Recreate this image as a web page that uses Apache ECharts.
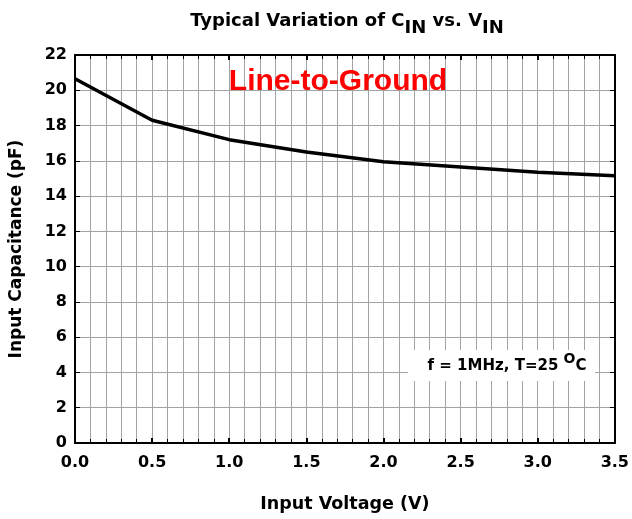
<!DOCTYPE html>
<html lang="en">
<head>
    <meta charset="utf-8">
    <script src="https://cdn.jsdelivr.net/npm/echarts@6/dist/echarts.min.js"></script>
    <style>
        html, body { margin: 0; padding: 0; background: #fff; }
        #main { width: 632px; height: 519px; }
    </style>
</head>
<body>
<div id="main"></div>
<script>
    // input voltage (V) and capacitance (pF)
    var voltage = [0, 0.5, 1.0, 1.5, 2.0, 2.5, 3.0, 3.5];
    var capacitance = [20.65, 18.3, 17.2, 16.5, 15.95, 15.65, 15.35, 15.15];

    var xTicks = ['0.0', '0.5', '1.0', '1.5', '2.0', '2.5', '3.0', '3.5'];

    var font = 'DejaVu Sans';
    var gridColor = '#a3a3a3';

    var points = voltage.map(function (v, i) { return [v, capacitance[i]]; });

    var chart = echarts.init(document.getElementById('main'));

    var xBase = {
        type: 'value',
        min: 0,
        max: 3.5,
        interval: 0.5,
        axisLine: { show: true, onZero: false, lineStyle: { color: '#000', width: 2 } },
        axisTick: { show: true, inside: true, length: 5, lineStyle: { color: '#000', width: 2 } },
        minorTick: { show: true, splitNumber: 5, length: 4, lineStyle: { color: '#000', width: 1 } },
        splitLine: { show: true, lineStyle: { color: gridColor, width: 1 } },
        minorSplitLine: { show: true, lineStyle: { color: gridColor, width: 1 } }
    };

    var yBase = {
        type: 'value',
        min: 0,
        max: 22,
        interval: 2,
        axisLine: { show: true, onZero: false, lineStyle: { color: '#000', width: 2 } },
        axisTick: { show: true, inside: true, length: 5, lineStyle: { color: '#000', width: 1 } },
        splitLine: { show: true, lineStyle: { color: gridColor, width: 1 } }
    };

    var bold = { fontFamily: font, fontWeight: 'bold', color: '#000' };

    chart.setOption({
        animation: false,
        title: {
            text: '{b|Typical Variation of C}{sub|IN}{b| vs. V}{sub|IN}',
            left: 342,
            textAlign: 'center',
            top: 7,
            textStyle: {
                rich: {
                    b: Object.assign({}, bold, { fontSize: 18, lineHeight: 19, verticalAlign: 'top' }),
                    sub: Object.assign({}, bold, { fontSize: 18, lineHeight: 25, verticalAlign: 'bottom' })
                }
            }
        },
        grid: { left: 75, right: 15, top: 55, bottom: 76 },
        xAxis: [
            Object.assign({}, xBase, {
                position: 'bottom',
                name: 'Input Voltage (V)',
                nameLocation: 'middle',
                nameGap: 52,
                nameTextStyle: Object.assign({}, bold, { fontSize: 17.5 }),
                axisLabel: Object.assign({}, bold, {
                    margin: 12,
                    fontSize: 16,
                    formatter: function (v) { return xTicks[Math.round(v / 0.5)]; }
                })
            }),
            Object.assign({}, xBase, {
                position: 'top',
                axisLabel: { show: false },
                splitLine: { show: false },
                minorSplitLine: { show: false }
            })
        ],
        yAxis: [
            Object.assign({}, yBase, {
                position: 'left',
                name: 'Input Capacitance (pF)',
                nameLocation: 'middle',
                nameGap: 50,
                nameTextStyle: Object.assign({}, bold, { fontSize: 17 }),
                axisLabel: Object.assign({}, bold, { margin: 8, fontSize: 16 })
            }),
            Object.assign({}, yBase, {
                position: 'right',
                axisLabel: { show: false },
                splitLine: { show: false }
            })
        ],
        series: [{
            type: 'line',
            data: points,
            showSymbol: false,
            smooth: false,
            lineStyle: { color: '#000', width: 3.5 },
            z: 5
        }],
        graphic: [
            {
                type: 'text',
                x: 338,
                y: 82,
                z: 10,
                style: {
                    text: 'Line-to-Ground',
                    fill: '#ff0000',
                    font: 'bold 30px "Liberation Sans", Arial, sans-serif',
                    align: 'center',
                    verticalAlign: 'middle'
                }
            },
            {
                type: 'rect',
                shape: { x: 408, y: 350, width: 187, height: 31 },
                style: { fill: '#fff' },
                z: 10
            },
            {
                type: 'text',
                x: 507,
                y: 352,
                z: 11,
                style: {
                    text: '{b|f = 1MHz, T=25 }{sup|O}{b|C}',
                    align: 'center',
                    verticalAlign: 'top',
                    rich: {
                        b: { fontFamily: font, fontWeight: 'bold', fontSize: 15, fill: '#000', lineHeight: 22, verticalAlign: 'bottom' },
                        sup: { fontFamily: font, fontWeight: 'bold', fontSize: 14, fill: '#000', lineHeight: 22, verticalAlign: 'top' }
                    }
                }
            }
        ]
    });
</script>
</body>
</html>
